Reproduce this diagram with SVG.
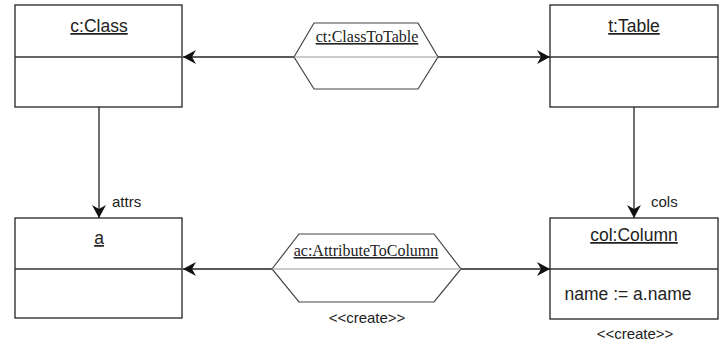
<svg xmlns="http://www.w3.org/2000/svg" width="725" height="347" viewBox="0 0 725 347">
<style>
.box{fill:#fff;stroke:#222;stroke-width:1.3}
.div{stroke:#333;stroke-width:1.3}
.hex{fill:#fff;stroke:#444;stroke-width:1.2}
.hdiv{stroke:#999;stroke-width:1.2}
.edge{stroke:#222;stroke-width:1.3;fill:none}
.t{font-family:"Liberation Sans",Arial,sans-serif;font-size:17.5px;fill:#222;text-anchor:middle}
.s{font-family:"Liberation Serif","Times New Roman",serif;font-size:16px;fill:#222;text-anchor:middle;text-decoration:underline}
.sm{font-family:"Liberation Sans",Arial,sans-serif;font-size:15px;fill:#222}
</style>
<defs>
<marker id="arr" viewBox="0 0 14 14" refX="13" refY="7" markerWidth="14" markerHeight="14" markerUnits="userSpaceOnUse" orient="auto">
<path d="M0,0 L13,7 L0,14 L4,7 z" fill="#111"/>
</marker>
</defs>
<g id="connectors">
<line class="edge" x1="294" y1="57" x2="183" y2="57" marker-end="url(#arr)"/>
<line class="edge" x1="438" y1="57" x2="550" y2="57" marker-end="url(#arr)"/>
<line class="edge" x1="99" y1="107" x2="99" y2="218" marker-end="url(#arr)"/>
<text class="sm" x="112" y="207">attrs</text>
<line class="edge" x1="634" y1="107" x2="634" y2="218" marker-end="url(#arr)"/>
<text class="sm" x="651" y="207">cols</text>
<line class="edge" x1="272" y1="269" x2="183" y2="269" marker-end="url(#arr)"/>
<line class="edge" x1="461" y1="269" x2="550" y2="269" marker-end="url(#arr)"/>
</g>
<g id="cClass">
<rect class="box" x="15" y="5" width="167" height="102"/>
<line class="div" x1="15" y1="57" x2="182" y2="57"/>
<text class="t" x="99" y="32" text-decoration="underline">c:Class</text>
</g>
<g id="tTable">
<rect class="box" x="550" y="5" width="168" height="102"/>
<line class="div" x1="550" y1="57" x2="718" y2="57"/>
<text class="t" x="634" y="32" text-decoration="underline">t:Table</text>
</g>
<g id="a">
<rect class="box" x="15" y="218" width="167" height="100"/>
<line class="div" x1="15" y1="269" x2="182" y2="269"/>
<text class="t" x="99" y="244" text-decoration="underline">a</text>
</g>
<g id="colColumn">
<rect class="box" x="550" y="218" width="168" height="101"/>
<line class="div" x1="550" y1="269" x2="718" y2="269"/>
<text class="t" x="634" y="241" text-decoration="underline">col:Column</text>
<text class="t" x="628" y="300">name := a.name</text>
<text class="sm" x="635" y="339" text-anchor="middle">&lt;&lt;create&gt;&gt;</text>
</g>
<g id="ct">
<polygon class="hex" points="294,57 314,23 418,23 438,57 418,89 314,89"/>
<line class="hdiv" x1="294" y1="57" x2="438" y2="57"/>
<text class="s" x="367" y="42">ct:ClassToTable</text>
</g>
<g id="ac">
<polygon class="hex" points="272,269 299,234 434,234 461,269 434,302 299,302"/>
<line class="hdiv" x1="272" y1="269" x2="461" y2="269"/>
<text class="s" x="366" y="256">ac:AttributeToColumn</text>
<text class="sm" x="367" y="323" text-anchor="middle">&lt;&lt;create&gt;&gt;</text>
</g>
</svg>
